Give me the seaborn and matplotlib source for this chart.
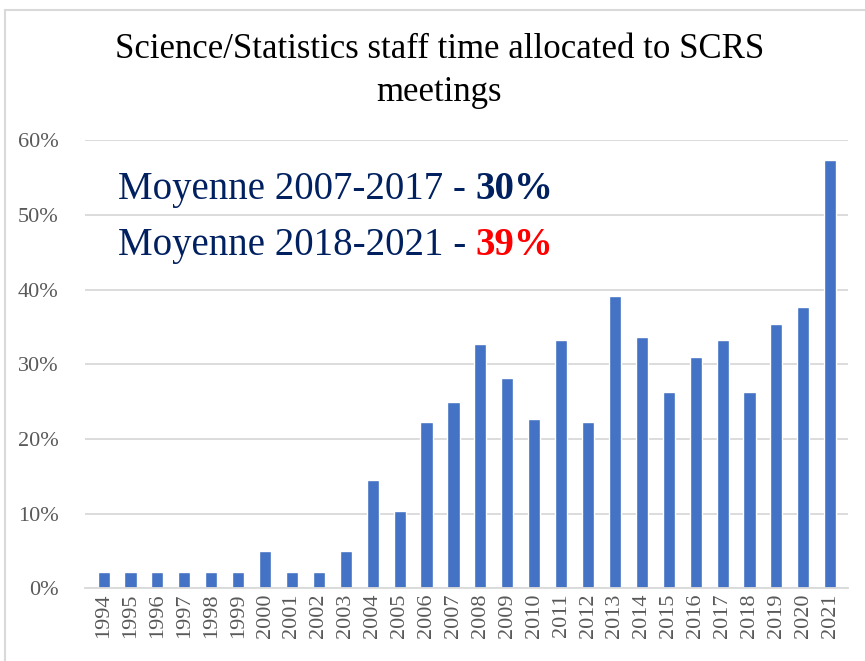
import pandas as pd
import seaborn as sns
import matplotlib.pyplot as plt
from matplotlib.ticker import PercentFormatter
from matplotlib.patches import Rectangle

years = [str(y) for y in range(1994, 2022)]
shares = [2.2, 2.2, 2.2, 2.2, 2.2, 2.2, 5.0, 2.2, 2.2, 5.0,
          14.5, 10.4, 22.2, 24.9, 32.7, 28.1, 22.7, 33.2, 22.2, 39.1,
          33.6, 26.3, 30.9, 33.2, 26.3, 35.4, 37.7, 57.3]
avg_labels = ['Moyenne 2007-2017 - ', 'Moyenne 2018-2021 - ']
avg_values = ['30%', '39%']

df = pd.DataFrame({'Year': years, 'Share': [s / 100 for s in shares]})

sns.set_style('white')
plt.rcParams['font.family'] = ['Liberation Serif', 'DejaVu Serif']

fig = plt.figure(figsize=(8.65, 6.61), dpi=100)
ax = fig.add_axes([0.098, 0.110, 0.882, 0.678])

sns.barplot(data=df, x='Year', y='Share', color='#4472C4', width=0.45,
            saturation=1, ax=ax)

# axes styling
ax.set_ylim(0, 0.6)
ax.set_yticks([0, 0.1, 0.2, 0.3, 0.4, 0.5, 0.6])
ax.yaxis.set_major_formatter(PercentFormatter(1.0, decimals=0))
ax.grid(axis='y', color='#d9d9d9', linewidth=1.3)
ax.set_axisbelow(True)
for side in ['top', 'right', 'left']:
    ax.spines[side].set_visible(False)
ax.spines['bottom'].set_color('#d9d9d9')
ax.spines['bottom'].set_linewidth(1.3)
ax.tick_params(axis='both', length=0, labelsize=16, labelcolor='#595959')
ax.tick_params(axis='y', pad=19)
ax.tick_params(axis='x', pad=4)
plt.setp(ax.get_xticklabels(), rotation=90)
ax.set_xlabel('')
ax.set_ylabel('')
ax.set_xlim(-0.7, len(years) - 0.35)

# title
fig.text(0.508, 0.893, 'Science/Statistics staff time allocated to SCRS\nmeetings',
         ha='center', va='center', fontsize=25, color='black', linespacing=1.4)

# average annotations
rows_y = [0.713, 0.628]
value_colors = ['#002060', '#FF0000']
for label, value, y, col in zip(avg_labels, avg_values, rows_y, value_colors):
    t = fig.text(0.136, y, label, fontsize=28, color='#002060', va='center')
    ax.annotate(value, xy=(1, 0), xycoords=t, va='bottom', ha='left',
                fontsize=28, fontweight='bold', color=col)

# chart frame
fig.patches.append(Rectangle((0.006, -0.01), 1.1, 0.995, transform=fig.transFigure,
                             fill=False, edgecolor='#d9d9d9', linewidth=1.5))

fig.savefig('out.png', dpi=100)
